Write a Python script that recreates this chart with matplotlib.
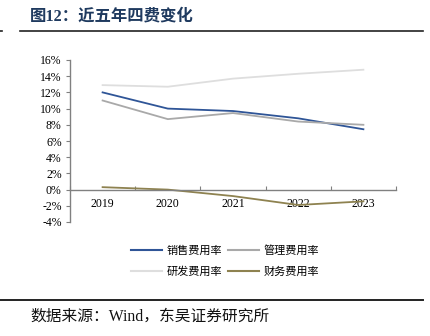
import matplotlib
matplotlib.use('Agg')
import matplotlib.pyplot as plt
from matplotlib.lines import Line2D
from matplotlib.ticker import FuncFormatter, FixedLocator

plt.rcParams['font.family'] = ['Liberation Serif', 'Noto Sans CJK SC']

years = ['2019', '2020', '2021', '2022', '2023']
sales_rate = [12.0, 10.0, 9.7, 8.8, 7.45]
admin_rate = [11.0, 8.7, 9.45, 8.4, 8.0]
rd_rate = [12.9, 12.7, 13.7, 14.3, 14.8]
fin_rate = [0.3, 0.0, -0.8, -1.9, -1.45]

names = ['销售费用率', '管理费用率', '研发费用率', '财务费用率']
colors = ['#2F5597', '#A9A9A9', '#DEDEDE', '#8E8250']
series = [sales_rate, admin_rate, rd_rate, fin_rate]

fig = plt.figure(figsize=(4.31, 3.36), dpi=100)
ax = fig.add_axes([70 / 431, 1 - 222 / 336, 326 / 431, 162 / 336])

x = list(range(len(years)))
for vals, c in zip(series, colors):
    ax.plot(x, vals, color=c, lw=1.3, solid_joinstyle='round')

ax.set_xlim(-0.5, 4.5)
ax.set_ylim(-4, 16)
ax.set_yticks(range(-4, 17, 2))
ax.yaxis.set_major_formatter(FuncFormatter(lambda v, p: f'{int(v)}%'))
ax.set_xticks(x)
ax.set_xticklabels(years)
ax.xaxis.set_minor_locator(FixedLocator([-0.5, 0.5, 1.5, 2.5, 3.5, 4.5]))

for s in ['top', 'right']:
    ax.spines[s].set_visible(False)
ax.spines['bottom'].set_position(('data', 0))
ax.spines['bottom'].set_color('#808080')
ax.spines['left'].set_color('#808080')
ax.spines['bottom'].set_linewidth(1.0)
ax.spines['left'].set_linewidth(1.0)
ax.tick_params(axis='y', length=3, width=0.8, color='#808080', pad=3, labelsize=8.5)
ax.tick_params(axis='x', which='major', length=0, pad=6, labelsize=8.5)
ax.tick_params(axis='x', which='minor', length=3, width=0.8, color='#808080', direction='in')
for lbl in ax.get_xticklabels() + ax.get_yticklabels():
    lbl.set_family('Liberation Serif')

# legend: fill rows left to right (matplotlib fills by column)
order = [0, 2, 1, 3]
handles = [Line2D([], [], color=colors[i], lw=1.5) for i in order]
labels = [names[i] for i in order]
fig.legend(handles, labels, loc='center', bbox_to_anchor=(225 / 431, 1 - 261 / 336),
           ncol=2, frameon=False, handlelength=2.8, handletextpad=0.45,
           columnspacing=0.45, labelspacing=0.95,
           prop={'family': 'Noto Sans CJK SC', 'size': 8})

# header and footer
fig.text(30 / 431, 1 - 16 / 336, '图12：近五年四费变化', fontsize=11.8, fontweight='bold',
         color='#1F3A5F', va='center', family=['Liberation Serif', 'Noto Sans CJK SC'])
fig.add_artist(Line2D([20 / 431, 423 / 431], [1 - 31 / 336] * 2, color='#222222', lw=1.2))
fig.add_artist(Line2D([0, 2 / 431], [1 - 31 / 336] * 2, color='#222222', lw=1.2))
fig.add_artist(Line2D([0, 423 / 431], [1 - 300 / 336] * 2, color='#222222', lw=1.4))
fig.text(30 / 431, 1 - 317 / 336, '数据来源：Wind，东吴证券研究所', fontsize=11.3,
         color='#111111', va='center', family=['Liberation Serif', 'Noto Sans CJK SC'])

fig.savefig('out.png', dpi=100)
